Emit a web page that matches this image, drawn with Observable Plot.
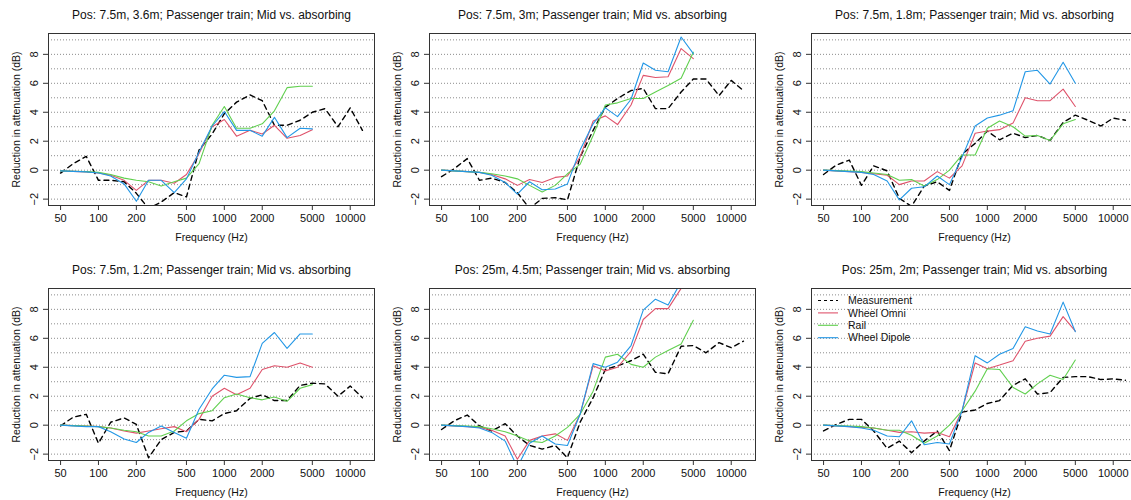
<!DOCTYPE html>
<html>
<head>
<meta charset="utf-8">
<script src="https://cdn.jsdelivr.net/npm/d3@7"></script>
<script src="https://cdn.jsdelivr.net/npm/@observablehq/plot@0.6"></script>
<style>
  html, body { margin: 0; padding: 0; background: #fff; }
  body { width: 1131px; height: 500px; overflow: hidden; position: relative; font-family: "Liberation Sans", Arial, sans-serif; }
  .panel { position: absolute; width: 381px; height: 250px; }
  .panel svg { max-width: none !important; }
  .legend { position: absolute; font-size: 10.5px; color: #111; }
</style>
</head>
<body>
<script>
// Frequencies (1/3-octave bands)
const freqModel = [50,63,80,100,125,160,200,250,315,400,500,630,800,1000,1250,1600,2000,2500,3150,4000,5000];
const freqMeas = [50,63,80,100,125,160,200,250,315,400,500,630,800,1000,1250,1600,2000,2500,3150,4000,5000,6300,8000,10000,12500];

const xTicks = [50,100,200,500,1000,2000,5000,10000];
const yTicks = [-2,0,2,4,6,8];
const yGrid = [-2,-1,0,1,2,3,4,5,6,7,8,9];

const seriesNames = ["Measurement","Wheel Omni","Rail","Wheel Dipole"];

const titles = [
  "Pos: 7.5m, 3.6m; Passenger train; Mid vs. absorbing",
  "Pos: 7.5m, 3m; Passenger train; Mid vs. absorbing",
  "Pos: 7.5m, 1.8m; Passenger train; Mid vs. absorbing",
  "Pos: 7.5m, 1.2m; Passenger train; Mid vs. absorbing",
  "Pos: 25m, 4.5m; Passenger train; Mid vs. absorbing",
  "Pos: 25m, 2m; Passenger train; Mid vs. absorbing"
];

// Panel 1
const meas1   = [-0.2,0.45,0.95,-0.7,-0.7,-0.8,-1.6,-2.65,-2.2,-1.55,-1.85,1.4,2.5,3.9,4.7,5.2,4.8,3.1,3.1,3.45,4.0,4.25,3.0,4.3,2.75];
const omni1   = [-0.05,-0.08,-0.12,-0.2,-0.35,-0.7,-1.4,-0.7,-0.7,-0.9,-0.3,1.15,3.0,3.5,2.35,2.75,2.5,3.1,2.2,2.4,2.8];
const rail1   = [-0.05,-0.07,-0.1,-0.15,-0.3,-0.55,-0.7,-0.8,-1.1,-0.8,-0.55,0.45,3.1,4.4,2.9,2.9,3.2,4.1,5.7,5.8,5.8];
const dipole1 = [-0.05,-0.08,-0.12,-0.2,-0.4,-0.95,-2.15,-0.7,-0.7,-1.55,-0.6,1.25,3.05,4.05,2.75,2.75,2.35,3.65,2.25,2.9,2.85];
// Panel 2
const meas2   = [-0.45,0.1,0.8,-0.7,-0.55,-0.85,-1.55,-2.65,-1.95,-1.9,-2.05,0.9,2.75,4.35,4.95,5.5,5.65,4.25,4.25,5.4,6.3,6.3,5.15,6.2,5.5];
const omni2   = [0,-0.05,-0.1,-0.15,-0.3,-0.6,-1.05,-0.65,-0.85,-0.5,-0.4,0.9,3.4,3.75,3.15,4.5,6.55,6.4,6.45,8.4,7.7];
const rail2   = [0,-0.05,-0.1,-0.15,-0.25,-0.4,-0.6,-1.05,-1.5,-1.05,-0.25,0.4,2.4,4.5,4.65,4.95,4.95,5.4,5.85,6.35,8.15];
const dipole2 = [0,-0.05,-0.1,-0.15,-0.35,-0.85,-1.65,-0.8,-1.35,-1.3,-0.95,1.4,3.2,4.3,3.7,4.9,7.4,6.9,6.8,9.2,8.05];
// Panel 3
const meas3   = [-0.3,0.35,0.7,-1.05,0.3,-0.05,-1.95,-2.5,-1.1,-0.8,-1.4,1.1,1.85,2.7,2.1,2.55,2.25,2.4,2.05,3.3,3.8,3.45,3.05,3.6,3.45];
const omni3   = [0,-0.05,-0.1,-0.15,-0.25,-0.35,-1.0,-0.75,-0.75,-0.1,-0.55,0.3,2.55,2.7,2.8,3.25,5.0,4.8,4.8,5.6,4.4];
const rail3   = [0,-0.03,-0.06,-0.1,-0.2,-0.3,-0.7,-0.65,-1.1,-0.65,0,1.05,1.05,2.9,3.4,3.0,2.35,2.4,2.05,3.2,3.5];
const dipole3 = [0,-0.05,-0.1,-0.15,-0.3,-0.75,-2.05,-1.25,-1.15,-0.4,-1.0,0.9,3.05,3.6,3.8,4.1,6.8,6.9,5.95,7.45,6.0];
// Panel 4
const meas4   = [-0.05,0.55,0.75,-1.25,0.2,0.5,0.05,-2.25,-1.0,-0.5,-0.4,0.4,0.3,0.8,1.0,1.85,2.1,1.7,1.7,2.75,2.9,2.85,2.0,2.7,1.9];
const omni4   = [0,-0.03,-0.06,-0.1,-0.2,-0.4,-0.55,-0.4,-0.25,-0.1,-0.45,0.4,2.0,2.55,2.1,2.55,3.85,4.1,4.0,4.3,4.0];
const rail4   = [0,-0.03,-0.06,-0.1,-0.2,-0.35,-0.45,-0.75,-0.75,-0.4,0.3,0.8,1.0,1.9,2.15,1.9,1.75,1.95,1.65,2.55,2.8];
const dipole4 = [0,-0.05,-0.1,-0.1,-0.45,-0.95,-1.2,-0.5,-0.05,-0.5,-0.9,1.1,2.5,3.45,3.3,3.35,5.65,6.4,5.3,6.3,6.3];
// Panel 5
const meas5   = [-0.3,0.3,0.7,-0.05,-0.4,0.1,-0.75,-1.4,-1.65,-1.4,-2.25,0.2,1.9,3.85,4.1,4.45,4.9,3.65,3.55,5.45,5.5,5.0,5.7,5.35,5.8];
const omni5   = [0,-0.05,-0.1,-0.15,-0.35,-0.75,-2.35,-1.05,-0.75,-0.6,-1.05,0.75,4.1,3.75,4.0,5.1,7.3,8.05,8.05,9.45,10.3];
const rail5   = [0,-0.03,-0.06,-0.1,-0.25,-0.45,-0.75,-1.1,-1.2,-0.75,-0.15,0.75,2.35,4.7,4.9,4.2,4.0,4.7,5.15,5.6,7.25];
const dipole5 = [0,-0.05,-0.1,-0.2,-0.5,-1.1,-2.9,-1.25,-0.75,-1.3,-1.4,0.75,4.25,4.0,4.35,5.5,7.95,8.7,8.3,9.9,10.6];
// Panel 6
const meas6   = [-0.4,0.05,0.4,0.4,-0.4,-1.6,-1.1,-1.9,-1.1,-0.4,-1.75,0.9,1.05,1.5,1.7,2.75,3.2,2.15,2.25,3.3,3.35,3.35,3.15,3.2,3.1];
const omni6   = [0,-0.05,-0.1,-0.15,-0.2,-0.35,-0.5,-0.45,-0.55,-0.5,-0.8,1.0,4.3,3.9,4.15,4.45,5.8,6.0,6.15,7.5,6.5];
const rail6   = [0,-0.03,-0.06,-0.1,-0.2,-0.35,-0.35,-0.7,-1.25,-0.75,0,1.0,2.35,3.9,3.85,2.6,2.15,2.85,3.45,3.15,4.5];
const dipole6 = [0,-0.05,-0.1,-0.2,-0.35,-0.75,-0.8,0.3,-1.35,-1.2,-1.3,1.0,4.8,4.3,4.9,5.3,6.8,6.5,6.3,8.5,6.45];

const panels = [
  {meas: meas1, omni: omni1, rail: rail1, dipole: dipole1},
  {meas: meas2, omni: omni2, rail: rail2, dipole: dipole2},
  {meas: meas3, omni: omni3, rail: rail3, dipole: dipole3},
  {meas: meas4, omni: omni4, rail: rail4, dipole: dipole4},
  {meas: meas5, omni: omni5, rail: rail5, dipole: dipole5},
  {meas: meas6, omni: omni6, rail: rail6, dipole: dipole6}
];

const colors = {meas: "#000000", omni: "#DF536B", rail: "#61D04F", dipole: "#2297E6"};
const font = "'Liberation Sans', Arial, sans-serif";
const W = 381, H = 250;
const lefts = [0, 381, 763];
const tops = [0, 255];

function toRows(freqs, vals) { return freqs.map((f, i) => ({f, v: vals[i]})); }

panels.forEach((p, k) => {
  const plot = Plot.plot({
    width: W, height: H,
    marginLeft: 48, marginRight: 7, marginTop: 33, marginBottom: 45,
    style: {fontFamily: font, fontSize: "11px", color: "#111", background: "white", overflow: "visible", maxWidth: "none"},
    x: {type: "log", domain: [40.1, 15590], axis: null},
    y: {domain: [-2.44, 9.44], axis: null},
    marks: [
      Plot.ruleY(yGrid, {y: d => d, stroke: "#8c8c8c", strokeDasharray: "1,2", strokeWidth: 1}),
      Plot.line(toRows(freqMeas, p.meas), {x: "f", y: "v", stroke: colors.meas, strokeWidth: 1.4, strokeDasharray: "5,4", clip: true}),
      Plot.line(toRows(freqModel, p.omni), {x: "f", y: "v", stroke: colors.omni, strokeWidth: 1.1, clip: true}),
      Plot.line(toRows(freqModel, p.rail), {x: "f", y: "v", stroke: colors.rail, strokeWidth: 1.1, clip: true}),
      Plot.line(toRows(freqModel, p.dipole), {x: "f", y: "v", stroke: colors.dipole, strokeWidth: 1.1, clip: true}),
      Plot.frame({stroke: "#333", strokeWidth: 1}),
      Plot.axisX(xTicks, {x: d => d, tickFormat: () => "", tickSize: 5, label: null, stroke: "#333"}),
      Plot.text(xTicks, {x: d => d, frameAnchor: "bottom", lineAnchor: "middle", dy: 13, text: d => String(d), fontSize: 11, fill: "#111"}),
      Plot.axisY(yTicks, {y: d => d, tickFormat: () => "", tickSize: 5, label: null, stroke: "#333"}),
      Plot.text(yTicks, {y: d => d, frameAnchor: "left", dx: -14, rotate: -90, textAnchor: "middle", lineAnchor: "middle", text: d => d < 0 ? "\u2212" + Math.abs(d) : String(d), fontSize: 11, fill: "#111"}),
      Plot.text(["Reduction in attenuation (dB)"], {frameAnchor: "left", dx: -32, rotate: -90, textAnchor: "middle", lineAnchor: "middle", text: d => d, fontSize: 10.5, fill: "#111"}),
      Plot.text(["Frequency (Hz)"], {frameAnchor: "bottom", lineAnchor: "middle", dy: 32, text: d => d, fontSize: 10.5, fill: "#111"}),
      Plot.text([titles[k]], {frameAnchor: "top", lineAnchor: "middle", dy: -18, text: d => d, fontSize: 12, fill: "#111"})
    ]
  });
  const div = document.createElement("div");
  div.className = "panel";
  div.style.left = lefts[k % 3] + "px";
  div.style.top = tops[Math.floor(k / 3)] + "px";
  div.appendChild(plot);
  document.body.appendChild(div);
});

// Legend (panel 6, top-left inside plot box)
const legendKeys = ["meas","omni","rail","dipole"];
const leg = document.createElement("div");
leg.className = "legend";
leg.style.left = "816px";
leg.style.top = "294px";
const NS = "http://www.w3.org/2000/svg";
const lsvg = document.createElementNS(NS, "svg");
lsvg.setAttribute("width", 110);
lsvg.setAttribute("height", 52);
legendKeys.forEach((key, i) => {
  const yy = 6.5 + i * 12.4;
  const ln = document.createElementNS(NS, "line");
  ln.setAttribute("x1", 2); ln.setAttribute("x2", 22);
  ln.setAttribute("y1", yy); ln.setAttribute("y2", yy);
  ln.setAttribute("stroke", colors[key]);
  ln.setAttribute("stroke-width", key === "meas" ? 1.2 : 1.1);
  if (key === "meas") ln.setAttribute("stroke-dasharray", "3,3");
  lsvg.appendChild(ln);
  const tx = document.createElementNS(NS, "text");
  tx.setAttribute("x", 32); tx.setAttribute("y", yy);
  tx.setAttribute("dy", "0.35em");
  tx.setAttribute("font-family", font);
  tx.setAttribute("font-size", "10.5px");
  tx.setAttribute("fill", "#111");
  tx.textContent = seriesNames[i];
  lsvg.appendChild(tx);
});
leg.appendChild(lsvg);
document.body.appendChild(leg);
</script>
</body>
</html>
